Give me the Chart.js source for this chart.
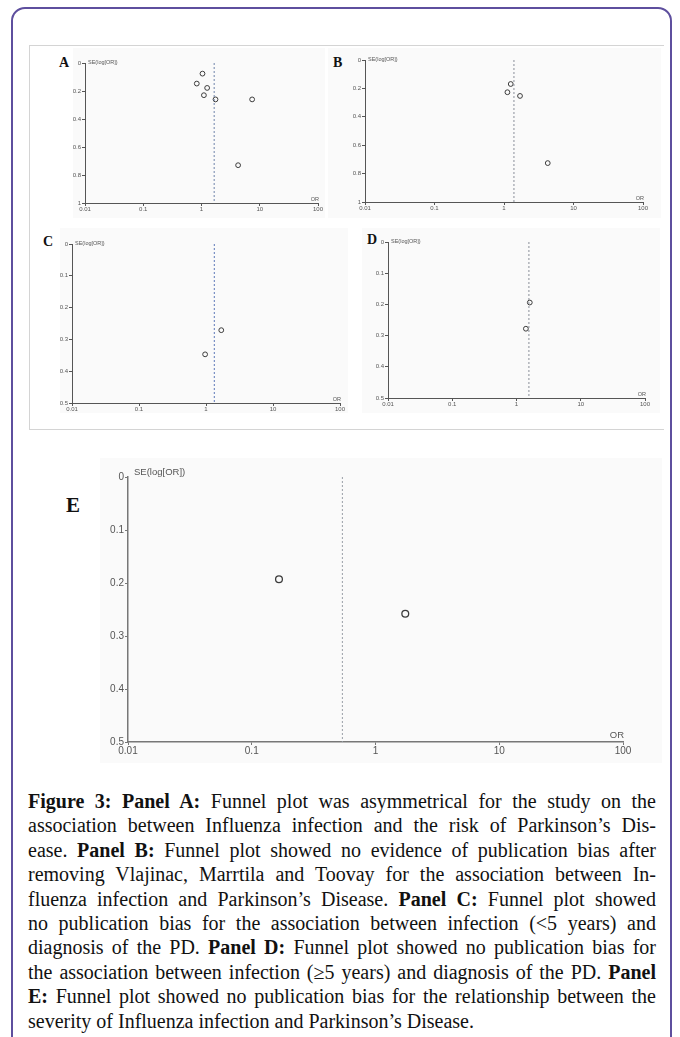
<!DOCTYPE html>
<html>
<head>
<meta charset="utf-8">
<script src="https://cdn.jsdelivr.net/npm/chart.js@4.4.0/dist/chart.umd.min.js"></script>
<style>
  body { margin: 0; background: #fff; width: 680px; height: 1037px; overflow: hidden; position: relative; font-family: 'Liberation Serif', serif; }
  #frame { position: absolute; left: 11px; top: 7px; width: 657px; height: 1045px; border: 2px solid #5e4f9e; border-radius: 14px; }
  #figbox { position: absolute; left: 29px; top: 45px; width: 634px; height: 383px; border: 1px solid #d4d4d4; border-right: none; }
  .bg { position: absolute; background: #fafafa; }
  canvas { position: absolute; }
  .lab { position: absolute; font-weight: bold; font-family: 'Liberation Serif', serif; color: #111; line-height: 1; }
  #caption { position: absolute; left: 28px; top: 789px; width: 628px; font-size: 20px; line-height: 24.4px; color: #111; }
  #caption div { white-space: nowrap; }
</style>
</head>
<body>
<div id="frame"></div>
<div id="figbox"></div>
<div class="bg" style="left:73px;top:48px;width:252px;height:170px"></div>
<div class="bg" style="left:328px;top:48px;width:333px;height:170px"></div>
<div class="bg" style="left:60px;top:228px;width:288px;height:185px"></div>
<div class="bg" style="left:362px;top:228px;width:298px;height:185px"></div>
<div class="bg" style="left:100px;top:458px;width:562px;height:305px"></div>

<div class="lab" style="left:59px;top:56px;font-size:14px">A</div>
<div class="lab" style="left:333px;top:56px;font-size:14px">B</div>
<div class="lab" style="left:43px;top:235px;font-size:14px">C</div>
<div class="lab" style="left:367px;top:233px;font-size:14px">D</div>
<div class="lab" style="left:66px;top:495px;font-size:21px">E</div>

<canvas id="chartA"></canvas>
<canvas id="chartB"></canvas>
<canvas id="chartC"></canvas>
<canvas id="chartD"></canvas>
<canvas id="chartE"></canvas>

<div id="caption">
<div><span><b>Figure 3: Panel A:</b> Funnel plot was asymmetrical for the study on the</span></div>
<div><span>association between Influenza infection and the risk of Parkinson’s Dis-</span></div>
<div><span>ease. <b>Panel B:</b> Funnel plot showed no evidence of publication bias after</span></div>
<div><span>removing Vlajinac, Marrtila and Toovay for the association between In-</span></div>
<div><span>fluenza infection and Parkinson’s Disease. <b>Panel C:</b> Funnel plot showed</span></div>
<div><span>no publication bias for the association between infection (&lt;5 years) and</span></div>
<div><span>diagnosis of the PD. <b>Panel D:</b> Funnel plot showed no publication bias for</span></div>
<div><span>the association between infection (≥5 years) and diagnosis of the PD. <b>Panel</b></span></div>
<div><span><b>E:</b> Funnel plot showed no publication bias for the relationship between the</span></div>
<div class="last"><span>severity of Influenza infection and Parkinson’s Disease.</span></div>
</div>

<script>
// shared axis ticks
const xTicks = [0.01, 0.1, 1, 10, 100];
const xTickLabels = ['0.01', '0.1', '1', '10', '100'];
const yTicksFull = [0, 0.2, 0.4, 0.6, 0.8, 1];
const yLabelsFull = ['0', '0.2', '0.4', '0.6', '0.8', '1'];
const yTicksHalf = [0, 0.1, 0.2, 0.3, 0.4, 0.5];
const yLabelsHalf = ['0', '0.1', '0.2', '0.3', '0.4', '0.5'];

// Panel A
const orA = [1.04, 0.83, 1.25, 1.1, 1.74, 7.4, 4.25];
const seA = [0.076, 0.147, 0.178, 0.23, 0.26, 0.26, 0.73];
const pooledA = 1.65;

// Panel B
const orB = [1.12, 1.25, 1.7, 4.26];
const seB = [0.227, 0.169, 0.253, 0.726];
const pooledB = 1.39;

// Panel C
const orC = [1.69, 0.97];
const seC = [0.271, 0.347];
const pooledC = 1.33;

// Panel D
const orD = [1.61, 1.4];
const seD = [0.194, 0.278];
const pooledD = 1.56;

// Panel E
const orE = [0.166, 1.74];
const seE = [0.193, 0.258];
const pooledE = 0.54;

// draws "SE(log[OR])" at top of y axis and "OR" at the right end of x axis
const axisText = {
  id: 'axisText',
  afterDraw(chart, args, opts) {
    const { ctx, chartArea } = chart;
    ctx.save();
    ctx.font = opts.font;
    ctx.fillStyle = opts.color;
    ctx.textBaseline = 'middle';
    ctx.textAlign = 'left';
    ctx.fillText('SE(log[OR])', chartArea.left + opts.dxTitle, chartArea.top + opts.dyTitle);
    ctx.textAlign = 'right';
    ctx.textBaseline = 'bottom';
    ctx.fillText('OR', chartArea.right + 1, chartArea.bottom - opts.dyOR);
    ctx.restore();
  }
};

function funnelChart(id, area, or, se, pooled, yMax, yTicks, yLabels, st) {
  const cv = document.getElementById(id);
  const left = area.l - st.yW, top = area.t - st.padT;
  cv.style.left = left + 'px';
  cv.style.top = top + 'px';
  cv.width = area.r + st.padR - left;
  cv.height = area.b + st.xH - top;
  const tickFont = { family: 'Liberation Sans', size: st.fs };
  return new Chart(cv, {
    type: 'scatter',
    data: {
      datasets: [
        { type: 'line', data: [{ x: pooled, y: 0 }, { x: pooled, y: yMax }], borderColor: st.dash, borderWidth: 1, borderDash: [2, 2], pointRadius: 0, fill: false },
        { data: or.map((v, i) => ({ x: v, y: se[i] })), pointRadius: st.r, borderColor: '#3c3c3c', borderWidth: st.pbw, backgroundColor: 'rgba(0,0,0,0)' }
      ]
    },
    options: {
      responsive: false,
      animation: false,
      layout: { padding: { top: st.padT, right: st.padR, left: 0, bottom: 0 } },
      plugins: {
        legend: { display: false },
        tooltip: { enabled: false },
        axisText: { font: st.fs2 + 'px Liberation Sans', color: '#555', dxTitle: st.dxT, dyTitle: st.dyT, dyOR: st.dyOR }
      },
      scales: {
        x: {
          type: 'logarithmic', min: 0.01, max: 100,
          afterBuildTicks: s => { s.ticks = xTicks.map(v => ({ value: v })); },
          afterFit: s => { s.height = st.xH; },
          ticks: { callback: (v, i) => xTickLabels[i], font: tickFont, color: '#555', padding: 0, maxRotation: 0, autoSkip: false },
          grid: { drawOnChartArea: false, tickLength: 3, color: st.axis },
          border: { color: st.axis, width: st.aw }
        },
        y: {
          type: 'linear', reverse: true, min: 0, max: yMax,
          afterBuildTicks: s => { s.ticks = yTicks.map(v => ({ value: v })); },
          afterFit: s => { s.width = st.yW; },
          ticks: { callback: (v, i) => yLabels[i], font: tickFont, color: '#555', padding: 1 },
          grid: { drawOnChartArea: false, tickLength: 3, color: st.axis },
          border: { color: st.axis, width: st.aw }
        }
      }
    },
    plugins: [axisText]
  });
}

const small = { yW: 22, xH: 12, padT: 10, padR: 10, fs: 6, fs2: 5.5, r: 2.4, pbw: 1, axis: '#555', aw: 1, dxT: 3, dyT: -1, dyOR: 1 };
const big = { yW: 36, xH: 19, padT: 14, padR: 14, fs: 10, fs2: 9.5, r: 3.4, pbw: 1.3, axis: '#777', aw: 1.5, dxT: 6, dyT: -5, dyOR: 2 };

funnelChart('chartA', { l: 85, r: 318, t: 63, b: 203 }, orA, seA, pooledA, 1, yTicksFull, yLabelsFull, Object.assign({}, small, { dash: '#6f83aa' }));
funnelChart('chartB', { l: 365, r: 643, t: 60, b: 202 }, orB, seB, pooledB, 1, yTicksFull, yLabelsFull, Object.assign({}, small, { dash: '#8a8f99' }));
funnelChart('chartC', { l: 72, r: 340, t: 244, b: 403 }, orC, seC, pooledC, 0.5, yTicksHalf, yLabelsHalf, Object.assign({}, small, { dash: '#5d78b8' }));
funnelChart('chartD', { l: 388, r: 645, t: 242, b: 398 }, orD, seD, pooledD, 0.5, yTicksHalf, yLabelsHalf, Object.assign({}, small, { dash: '#8a8f99' }));
funnelChart('chartE', { l: 128, r: 623, t: 477, b: 742 }, orE, seE, pooledE, 0.5, yTicksHalf, yLabelsHalf, Object.assign({}, big, { dash: '#9aa0a8' }));

// justify each caption line by spreading the spaces
const capWidth = 628;
document.querySelectorAll('#caption div').forEach(d => {
  if (d.classList.contains('last')) return;
  const span = d.querySelector('span');
  const gaps = (span.textContent.match(/ /g) || []).length;
  const w = span.getBoundingClientRect().width;
  if (gaps) d.style.wordSpacing = ((capWidth - w) / gaps) + 'px';
});
</script>
</body>
</html>
